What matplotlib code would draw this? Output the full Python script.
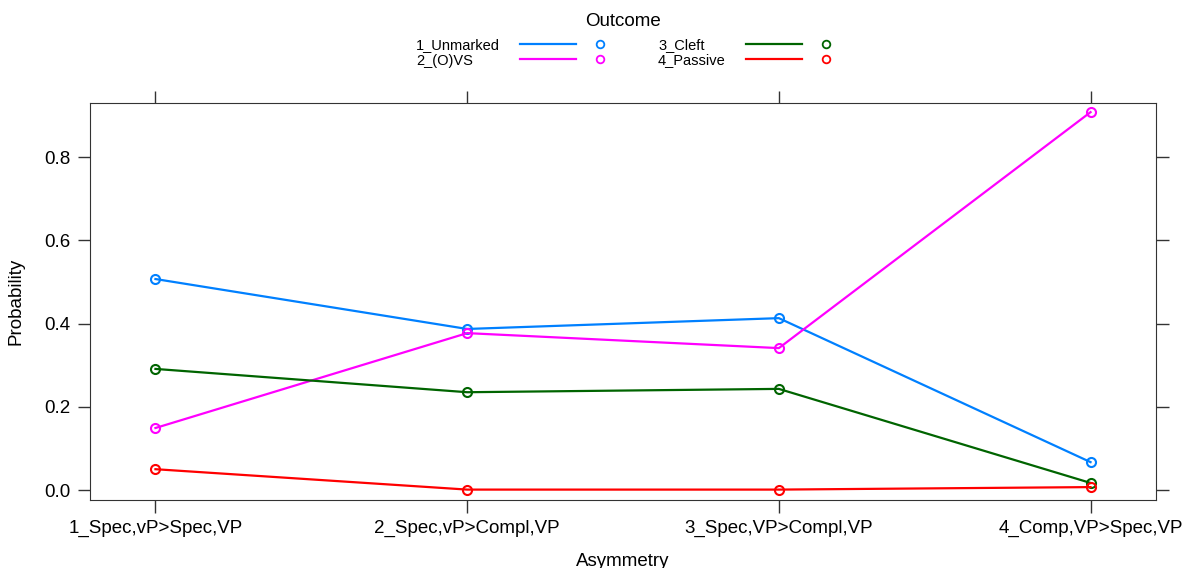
import numpy as np
import matplotlib.pyplot as plt
from matplotlib.lines import Line2D

plt.rcParams['font.family'] = ['Liberation Sans', 'DejaVu Sans']

# --- Datos ---
asimetria = ["1_Spec,vP>Spec,VP", "2_Spec,vP>Compl,VP",
             "3_Spec,VP>Compl,VP", "4_Comp,VP>Spec,VP"]
resultados = ["1_Unmarked", "2_(O)VS", "3_Cleft", "4_Passive"]
p_unmarked = [0.507, 0.387, 0.413, 0.067]
p_ovs = [0.149, 0.377, 0.341, 0.908]
p_cleft = [0.291, 0.235, 0.243, 0.017]
p_passive = [0.050, 0.001, 0.001, 0.007]
colores = ["#0080ff", "#ff00ff", "#006400", "#ff0000"]

series = [p_unmarked, p_ovs, p_cleft, p_passive]
x = np.arange(1, len(asimetria) + 1)

fig = plt.figure(figsize=(11.88, 5.68), dpi=100)
ax = fig.add_axes([90 / 1188, 1 - 500 / 568, (1156 - 90) / 1188, (500 - 103) / 568])

for vals, col in zip(series, colores):
    ax.plot(x, vals, color=col, lw=1.6, marker='o', ms=6.5,
            mfc='none', mec=col, mew=1.5)

ax.set_xlim(0.79, 4.21)
ax.set_ylim(-0.024, 0.930)
ax.set_xticks(x)
ax.set_xticklabels(asimetria, fontsize=13.5)
ax.set_yticks([0.0, 0.2, 0.4, 0.6, 0.8])
ax.set_yticklabels(["0.0", "0.2", "0.4", "0.6", "0.8"], fontsize=13.5)
ax.tick_params(direction='out', length=9, width=1, color='#333333', pad=5,
               top=True, right=True, labeltop=False, labelright=False)
for s in ax.spines.values():
    s.set_color('#333333')
ax.set_xlabel("Asymmetry", fontsize=13.5, labelpad=12)
ax.set_ylabel("Probability", fontsize=13.5, labelpad=14)

# --- Leyenda estilo lattice ---
W, H = 1188, 568
fig.text(623 / W, 1 - 22 / H, "Outcome", ha='center', va='center', fontsize=13.5)
col_x = [(416, 520, 576, 600), (658, 746, 802, 826)]
fila_y = [44, 59]
for i, (nombre, col) in enumerate(zip(resultados, colores)):
    tx, l0, l1, px = col_x[i // 2]
    yy = 1 - fila_y[i % 2] / H
    fig.text(tx / W, yy, nombre, ha='left', va='center_baseline', fontsize=10.5)
    fig.add_artist(Line2D([l0 / W, l1 / W], [yy, yy], color=col, lw=1.6,
                          transform=fig.transFigure))
    fig.add_artist(Line2D([px / W], [yy], color=col, marker='o', ms=5.5,
                          mfc='none', mew=1.3, transform=fig.transFigure))

fig.savefig("out.png", dpi=100)
